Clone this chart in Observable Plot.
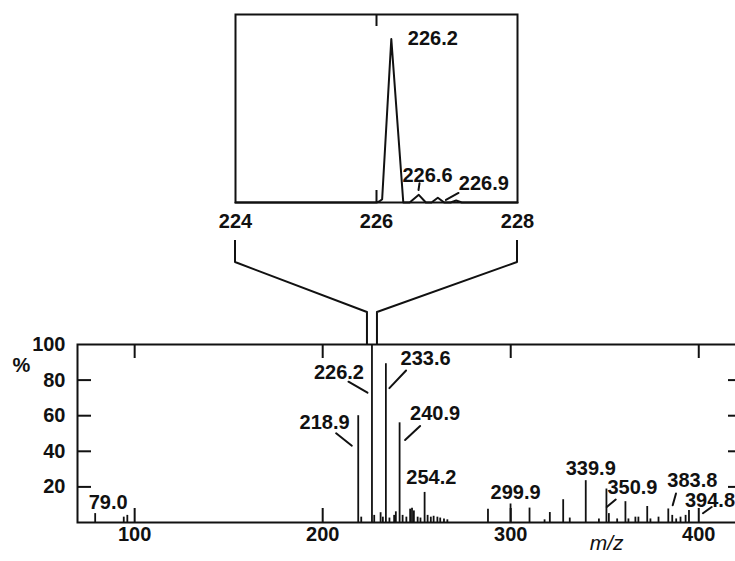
<!DOCTYPE html>
<html><head><meta charset="utf-8">
<script src="https://cdn.jsdelivr.net/npm/d3@7"></script>
<script src="https://cdn.jsdelivr.net/npm/@observablehq/plot@0.6"></script>
<style>
html,body{margin:0;padding:0;background:#fff;overflow:hidden}
#fig{position:relative;width:735px;height:561px;overflow:hidden;background:#fff}
#fig svg{position:absolute;left:0;top:0}
</style></head><body><div id="fig"></div>
<script>
// ---------- data ----------
const peakMz  = [79.0, 94.2, 96.1,
  218.9, 220.5, 226.2, 227.4, 230.8, 232.0, 233.6, 235.5, 238.0, 238.9, 240.9, 242.5, 244.5, 246.5, 247.5, 248.5, 250.5, 252.0, 254.2, 255.8, 257.5, 259.0, 261.0, 262.5, 264.5, 266.3,
  287.9, 299.9, 310.0, 318.0, 320.8, 327.9, 331.4, 339.9, 346.9, 350.9, 352.2, 356.6, 361.0, 362.6, 366.3, 367.9, 372.6, 374.3, 378.6, 383.8, 385.9, 388.0, 390.3, 393.0, 394.8];
const peakInt = [5, 3, 4,
  60, 3, 100, 4, 5.5, 3, 89.2, 2.5, 4, 6, 56, 4, 3, 7.5, 8, 6.5, 3, 2.5, 16.9, 4, 3, 3.5, 3, 2.5, 2, 1.5,
  7.5, 10.4, 8.1, 1.5, 5.6, 12.8, 2.5, 23.5, 2, 18.8, 5, 2, 11.7, 2, 3, 3, 9, 2, 3, 7.6, 4, 2, 3, 4, 6.7];
const labelMz = [79.0, 218.9, 226.2, 233.6, 240.9, 254.2, 299.9, 339.9, 350.9, 383.8, 394.8];

const insetMz  = [224, 226.0, 226.04, 226.08, 226.21, 226.38, 226.47, 226.6, 226.7, 226.78, 226.87, 226.96, 227.05, 227.13, 227.21, 227.3, 228];
const insetInt = [0, 0, 0.6, 2, 100, 0, 0, 4.7, 0, 0, 2.9, 0, 0, 1.2, 0, 0, 0];
const insetLabelMz = [226.21, 226.6, 226.87];

const xTicksMain = [100, 200, 300, 400];
const yTicksMain = [20, 40, 60, 80, 100];
const insetTicks = [224, 226, 228];

// ---------- styles ----------
const FONT = "'Liberation Sans', Arial, sans-serif";
const INK = "#111";
const SVGSTYLE = `font-family:${FONT};font-size:20px;font-weight:bold;color:${INK};background:transparent;max-width:none;overflow:visible`;
// label offsets (px) relative to peak top
const labelDx = [13, -33.6, -33, 39.7, 35.5, 6.7, 5, 5, 26, 24, -4];
const labelDy = [-11, 6.5, 28, -5, -9.6, -15, -11, -12, -1.6, -28, -10];
const labelAnchor = ["middle","middle","middle","middle","middle","middle","middle","middle","middle","middle","start"];
// leader lines (px offsets from peak top): [dx1, dy1, dx2, dy2]
const leaderOff = {
  "218.9": [-21.6, 18.1, -5.9, 30.5],
  "226.2": [-23, 37.7, -4, 48.7],
  "233.6": [20.7, 7.3, 4, 24.9],
  "240.9": [21, 3.7, 6, 17.7],
  "350.9": [9.8, 11, 0.8, 18.4],
  "383.8": [8.2, -14.9, 4.9, -3.2],
  "394.8": [14.5, 3.2, 23.2, -3.1]
};
const insetLabelDx = [41.5, 8.7, 46];
const insetLabelDy = [0, -19.3, -14];
const insetLeaderOff = [null, [1.2, -11, 0.2, -4.3], [8.6, 2.7, 21.2, -4.3]];
const mzAxisLabelAt = 351;

// ---------- tables ----------
const peaks = peakMz.map((mz, i) => ({mz, int: peakInt[i]}));
const intOf = mz => peakInt[peakMz.indexOf(mz)];
const labels = labelMz.map(mz => ({mz, int: intOf(mz), t: mz.toFixed(1)}));
const profile = insetMz.map((mz, i) => ({mz, int: insetInt[i]}));
const insetLabels = insetLabelMz.map(mz => ({mz, int: insetInt[insetMz.indexOf(mz)], t: mz.toFixed(1)}));

// ---------- main chart ----------
const MW = 745, MH = 561, ML = 77, MR = 5, MT = 344, MB = 39;
const mPW = MW - ML - MR, mPH = MH - MT - MB;
const main = Plot.plot({
  width: MW, height: MH, marginLeft: ML, marginRight: MR, marginTop: MT, marginBottom: MB,
  style: SVGSTYLE,
  x: {domain: [69.6, 422.2]},
  y: {domain: [0, 100]},
  marks: [
    Plot.ruleX(peaks, {x: "mz", y1: 0, y2: "int", stroke: INK, strokeWidth: 1.8}),
    Plot.frame({stroke: INK, strokeWidth: 2}),
    Plot.tickX(xTicksMain, {x: d => d, insetTop: mPH - 14, stroke: INK, strokeWidth: 2}),
    Plot.tickX(xTicksMain, {x: d => d, insetBottom: mPH - 14, stroke: INK, strokeWidth: 2}),
    Plot.tickY(yTicksMain.filter(d => d < 100), {y: d => d, insetRight: mPW - 14, stroke: INK, strokeWidth: 2}),
    Plot.tickY(yTicksMain.filter(d => d < 100), {y: d => d, insetLeft: mPW - 12, stroke: INK, strokeWidth: 2}),
    Plot.axisX(xTicksMain, {tickSize: 0, tickPadding: 4, label: null}),
    Plot.axisY(yTicksMain, {tickSize: 0, tickPadding: 12, label: null}),
    ...labels.map((l, i) => Plot.text([l], {x: "mz", y: "int", text: "t", dx: labelDx[i], dy: labelDy[i], textAnchor: labelAnchor[i], fill: INK})),
    Plot.text(["%"], {text: d => d, frameAnchor: "top-left", dx: -56, dy: 13, textAnchor: "middle", fill: INK}),
    Plot.text([{t: "m/z", x: mzAxisLabelAt}], {x: "x", text: "t", frameAnchor: "bottom", dy: 27, fontSize: 21, fontStyle: "italic", fontWeight: "normal", fill: INK})
  ]
});

// ---------- inset ----------
const IW = 735, IH = 245, IL = 235, IR = 218, IT = 14, IB = 43;
const iPH = IH - IT - IB;
const inset = Plot.plot({
  width: IW, height: IH, marginLeft: IL, marginRight: IR, marginTop: IT, marginBottom: IB,
  style: SVGSTYLE,
  x: {domain: [224, 228]},
  y: {domain: [0, 115], axis: null},
  marks: [
    Plot.line(profile, {x: "mz", y: "int", stroke: INK, strokeWidth: 2}),
    Plot.frame({stroke: INK, strokeWidth: 2}),
    Plot.tickX([226], {x: d => d, insetTop: iPH - 12, stroke: INK, strokeWidth: 2}),
    Plot.tickX([226], {x: d => d, insetBottom: iPH - 12, stroke: INK, strokeWidth: 2}),
    Plot.axisX(insetTicks, {tickSize: 0, tickPadding: 11, label: null}),
    ...insetLabels.map((l, i) => Plot.text([l], {x: "mz", y: "int", text: "t", dx: insetLabelDx[i], dy: insetLabelDy[i], fill: INK}))
  ]
});

// ---------- leader lines via the plots' scales ----------
function addLeaders(plot, items, offs) {
  const sx = plot.scale("x"), sy = plot.scale("y");
  const g = d3.select(plot).append("g").attr("stroke", INK).attr("stroke-width", 2).attr("stroke-linecap", "round");
  items.forEach((l, i) => {
    const o = offs(l, i);
    if (!o) return;
    const px = sx.apply(l.mz), py = sy.apply(l.int);
    g.append("line").attr("x1", px + o[0]).attr("y1", py + o[1]).attr("x2", px + o[2]).attr("y2", py + o[3]);
  });
}
addLeaders(main, labels, l => leaderOff[l.t]);
addLeaders(inset, insetLabels, (l, i) => insetLeaderOff[i]);

// ---------- connector between inset and main ----------
const ix = inset.scale("x"), mx = main.scale("x");
const iBottom = IH - IB, mTop = MT;
const cMid = mx.apply(226.2) + 0.5;
const conn = [
  [[ix.apply(224), iBottom + 38], [ix.apply(224), iBottom + 60], [cMid - 5, mTop - 32], [cMid - 5, mTop]],
  [[ix.apply(228), iBottom + 38], [ix.apply(228), iBottom + 60], [cMid + 5, mTop - 32], [cMid + 5, mTop]]
];
const over = d3.create("svg").attr("width", 735).attr("height", 561);
over.selectAll("path").data(conn).join("path")
  .attr("d", d3.line()).attr("fill", "none").attr("stroke", INK).attr("stroke-width", 2).attr("stroke-linejoin", "round");

const fig = document.getElementById("fig");
fig.appendChild(main);
fig.appendChild(inset);
fig.appendChild(over.node());
</script></body></html>
